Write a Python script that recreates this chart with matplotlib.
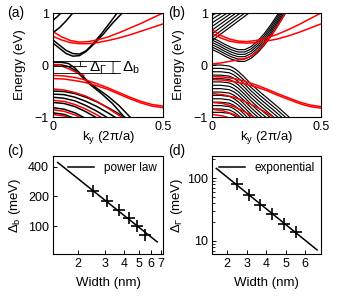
import numpy as np
import matplotlib.pyplot as plt
from matplotlib.ticker import FixedLocator, FixedFormatter, NullFormatter, LogLocator

plt.rcParams['font.family'] = ['Liberation Sans', 'DejaVu Sans']
plt.rcParams['mathtext.fontset'] = 'custom'
plt.rcParams['mathtext.rm'] = 'Liberation Sans'
plt.rcParams['mathtext.it'] = 'Liberation Sans:italic'
plt.rcParams['mathtext.bf'] = 'Liberation Sans:bold'

# ---------------- panel (a) bands: (k, E) ----------------
a_black = [
    ([0, 0.03, 0.06, 0.09, 0.12, 0.15, 0.19, 0.23, 0.27, 0.31, 0.33],
     [0.42, 0.32, 0.22, 0.17, 0.18, 0.26, 0.42, 0.6, 0.8, 0.98, 1.08]),
    ([0, 0.03, 0.06, 0.09, 0.12, 0.15, 0.18, 0.22, 0.26, 0.3],
     [0.48, 0.38, 0.28, 0.22, 0.21, 0.27, 0.4, 0.6, 0.82, 1.05]),
    ([0, 0.03, 0.06, 0.09], [0.62, 0.72, 0.85, 1.0]),
    ([0, 0.02, 0.04], [0.86, 0.93, 1.02]),
    ([0, 0.04, 0.07, 0.1, 0.13, 0.16, 0.2, 0.25, 0.3, 0.35],
     [0.05, 0.05, 0.03, -0.06, -0.19, -0.32, -0.45, -0.6, -0.78, -1.0]),
    ([0, 0.04, 0.07, 0.1, 0.13, 0.17, 0.22, 0.27, 0.32],
     [0.0, 0.0, -0.03, -0.1, -0.22, -0.38, -0.55, -0.74, -0.98]),
    ([0, 0.05, 0.1, 0.15, 0.2, 0.25, 0.3, 0.35],
     [-0.5, -0.51, -0.55, -0.62, -0.71, -0.82, -0.94, -1.06]),
    ([0, 0.05, 0.1, 0.15, 0.2, 0.25, 0.3],
     [-0.56, -0.57, -0.62, -0.7, -0.8, -0.92, -1.05]),
    ([0, 0.05, 0.1, 0.15, 0.2, 0.25],
     [-0.62, -0.64, -0.69, -0.78, -0.89, -1.02]),
    ([0, 0.05, 0.1, 0.15, 0.2], [-0.72, -0.74, -0.8, -0.9, -1.02]),
    ([0, 0.05, 0.1, 0.15], [-0.82, -0.85, -0.92, -1.03]),
    ([0, 0.05, 0.1], [-0.92, -0.95, -1.03]),
]
a_red = [
    ([0, 0.04, 0.08, 0.12, 0.16, 0.2, 0.25, 0.3, 0.35, 0.4, 0.45, 0.5],
     [0.64, 0.54, 0.47, 0.44, 0.45, 0.48, 0.54, 0.62, 0.71, 0.8, 0.9, 1.0]),
    ([0, 0.04, 0.08, 0.12, 0.16, 0.2, 0.25, 0.3, 0.35, 0.4, 0.45, 0.5],
     [0.55, 0.48, 0.43, 0.41, 0.41, 0.43, 0.47, 0.52, 0.58, 0.65, 0.72, 0.79]),
    ([0, 0.02, 0.04, 0.07, 0.1, 0.14], [0.0, 0.0, -0.02, -0.07, -0.13, -0.2]),
    ([0, 0.05, 0.1, 0.15, 0.2, 0.25, 0.3, 0.35, 0.4, 0.45, 0.5],
     [-0.2, -0.21, -0.24, -0.29, -0.36, -0.44, -0.53, -0.62, -0.7, -0.76, -0.79]),
    ([0, 0.05, 0.1, 0.15, 0.2, 0.25, 0.3, 0.35, 0.4, 0.45, 0.5],
     [-0.26, -0.27, -0.3, -0.34, -0.4, -0.47, -0.56, -0.65, -0.73, -0.79, -0.82]),
    ([0, 0.05, 0.1, 0.15, 0.2, 0.25, 0.3, 0.33],
     [-0.46, -0.48, -0.53, -0.6, -0.7, -0.83, -0.97, -1.05]),
    ([0, 0.05, 0.1, 0.15, 0.2, 0.25], [-0.68, -0.7, -0.76, -0.85, -0.96, -1.08]),
    ([0, 0.05, 0.1, 0.15], [-0.86, -0.89, -0.96, -1.06]),
    ([0, 0.05, 0.1], [-0.95, -0.98, -1.05]),
]

# gap markers in (a)
gap_top = 0.07
gap_gamma_low = -0.01
gap_b_low = -0.145

# ---------------- panel (b) bands ----------------
# top-left stack: straight from left edge (E_left) up to top edge (k_top)
b_stack_E_left = [0.95, 0.88, 0.81, 0.74, 0.67, 0.6, 0.53, 0.47]
b_stack_k_top = [0.02, 0.045, 0.07, 0.09, 0.11, 0.13, 0.15, 0.17]
# conduction bundle: one shape, stacked by offsets
b_cond_k = [0, 0.03, 0.06, 0.09, 0.12, 0.15, 0.18, 0.21, 0.24, 0.27, 0.3, 0.33, 0.35]
b_cond_E = [0.3, 0.24, 0.17, 0.11, 0.07, 0.07, 0.13, 0.24, 0.38, 0.55, 0.74, 0.95, 1.1]
b_cond_offsets = [0, 0.045, 0.09, 0.135, 0.18, 0.225]
# valence bundle
b_val_k = [0, 0.04, 0.08, 0.1, 0.12, 0.15, 0.18, 0.22, 0.26, 0.3, 0.34, 0.38]
b_val_E = [0.0, 0.0, -0.02, -0.06, -0.12, -0.24, -0.37, -0.52, -0.66, -0.8, -0.95, -1.1]
b_val_offsets = [0, 0.065, 0.13, 0.195, 0.26, 0.325, 0.39, 0.455, 0.52,
                 0.585, 0.65, 0.715, 0.78, 0.845, 0.91]
b_red = [
    ([0, 0.04, 0.08, 0.12, 0.16, 0.2, 0.25, 0.3, 0.35, 0.4, 0.45, 0.5],
     [0.68, 0.57, 0.5, 0.46, 0.45, 0.47, 0.52, 0.59, 0.68, 0.78, 0.89, 1.0]),
    ([0, 0.04, 0.08, 0.12, 0.16, 0.2, 0.25, 0.3, 0.35, 0.4, 0.45, 0.5],
     [0.6, 0.52, 0.46, 0.43, 0.42, 0.43, 0.46, 0.5, 0.56, 0.63, 0.71, 0.79]),
    ([0, 0.04, 0.08, 0.11, 0.14, 0.17, 0.2, 0.23, 0.26, 0.29, 0.32, 0.34],
     [0.02, 0.04, 0.07, 0.09, 0.11, 0.15, 0.23, 0.35, 0.5, 0.68, 0.88, 1.02]),
    ([0, 0.05, 0.1, 0.15, 0.2, 0.25, 0.3, 0.35, 0.4, 0.45, 0.5],
     [-0.22, -0.23, -0.26, -0.31, -0.38, -0.46, -0.55, -0.63, -0.71, -0.77, -0.8]),
    ([0, 0.05, 0.1, 0.15, 0.2, 0.25, 0.3, 0.35, 0.4, 0.45, 0.5],
     [-0.28, -0.29, -0.32, -0.36, -0.42, -0.49, -0.58, -0.66, -0.74, -0.8, -0.83]),
    ([0, 0.05, 0.1, 0.15, 0.2, 0.25, 0.3],
     [-0.55, -0.57, -0.62, -0.7, -0.8, -0.92, -1.05]),
    ([0, 0.05, 0.1, 0.15, 0.2], [-0.72, -0.74, -0.8, -0.9, -1.02]),
    ([0, 0.05, 0.1, 0.15], [-0.85, -0.88, -0.95, -1.05]),
    ([0, 0.05, 0.1], [-0.95, -0.98, -1.05]),
]

# ---------------- panels (c), (d) ----------------
width = [2.5, 3.1, 3.7, 4.3, 4.9, 5.5]
delta_b = [225, 178, 145, 120, 100, 82]
delta_gamma = [80, 54, 38, 27, 19, 13.8]
power_fit_x = [1.47, 6.6]
power_fit_y = [443, 69]
exp_fit_x = [1.45, 6.6]
exp_fit_y = [144, 7.2]

LW = 1.1
LW_B = 0.85
fig = plt.figure(figsize=(3.38, 3.0), dpi=100)
W, H = 338.0, 300.0


def rect(x0, x1, y0, y1):
    return [x0 / W, 1 - y1 / H, (x1 - x0) / W, (y1 - y0) / H]


def style(ax):
    ax.tick_params(direction='in', length=3, width=0.7, labelsize=9, pad=3)
    ax.tick_params(which='minor', direction='in', length=1.8, width=0.6)
    for s in ax.spines.values():
        s.set_linewidth(0.8)


ax_a = fig.add_axes(rect(53, 163, 13, 117))
ax_b = fig.add_axes(rect(212, 321, 13, 117))
ax_c = fig.add_axes(rect(53, 163, 156, 254))
ax_d = fig.add_axes(rect(212, 321, 156, 254))

for k, e in a_black:
    ax_a.plot(k, e, color='black', lw=LW)
for k, e in a_red:
    ax_a.plot(k, e, color='red', lw=LW)

# gap markers
ax_a.plot([0, 0.305], [gap_top, gap_top], color='black', lw=0.6)
ax_a.plot([0, 0.15], [gap_gamma_low, gap_gamma_low], color='black', lw=0.6)
ax_a.plot([0, 0.305], [gap_b_low, gap_b_low], color='black', lw=0.6)
for kx, lo in [(0.125, gap_gamma_low), (0.273, gap_b_low)]:
    ax_a.annotate('', xy=(kx, lo), xytext=(kx, gap_top),
                  arrowprops=dict(arrowstyle='|-|,widthA=0.12,widthB=0.12',
                                  lw=0.6, shrinkA=0, shrinkB=0))
ax_a.text(0.165, -0.06, r'$\Delta_\Gamma$', fontsize=11, va='center', ha='left')
ax_a.text(0.315, -0.06, r'$\Delta_\mathrm{b}$', fontsize=11, va='center', ha='left')

for el, kt in zip(b_stack_E_left, b_stack_k_top):
    ax_b.plot([0, kt], [el, 1.0], color='black', lw=LW_B)
for off in b_cond_offsets:
    ax_b.plot(b_cond_k, np.array(b_cond_E) + off, color='black', lw=LW_B)
for off in b_val_offsets:
    ax_b.plot(b_val_k, np.array(b_val_E) - off, color='black', lw=LW_B)
for k, e in b_red:
    ax_b.plot(k, e, color='red', lw=LW)

for ax in (ax_a, ax_b):
    ax.set_xlim(0, 0.5)
    ax.set_ylim(-1, 1)
    ax.set_xticks([0, 0.5])
    ax.set_xticklabels(['0', '0.5'])
    ax.set_yticks([-1, 0, 1])
    ax.set_yticklabels(['\u22121', '0', '1'])
    style(ax)
    ax.set_xlabel(r'k$_\mathrm{y}$ (2π/a)', fontsize=9.5)
    ax.set_ylabel('Energy (eV)', fontsize=9.5)
    ax.xaxis.set_label_coords(0.5, -0.12)
ax_a.yaxis.set_label_coords(-0.245, 0.5)
ax_b.yaxis.set_label_coords(-0.25, 0.5)

# (c) power law, log-log
ax_c.plot(power_fit_x, power_fit_y, color='black', lw=1.1, label='power law')
ax_c.plot(width, delta_b, '+', color='black', ms=8, mew=1.2)
ax_c.set_xscale('log')
ax_c.set_yscale('log')
ax_c.set_xlim(1.37, 7.2)
ax_c.set_ylim(52, 515)
ax_c.xaxis.set_major_locator(FixedLocator([2, 3, 4, 5, 6, 7]))
ax_c.xaxis.set_major_formatter(FixedFormatter(['2', '3', '4', '5', '6', '7']))
ax_c.xaxis.set_minor_locator(FixedLocator([]))
ax_c.yaxis.set_major_locator(FixedLocator([100, 200, 400]))
ax_c.yaxis.set_major_formatter(FixedFormatter(['100', '200', '400']))
ax_c.yaxis.set_minor_locator(FixedLocator([]))
ax_c.set_ylabel(r'$\Delta_\mathrm{b}$ (meV)', fontsize=9.5)
ax_c.yaxis.set_label_coords(-0.27, 0.5)

# (d) exponential, semilog
ax_d.plot(exp_fit_x, exp_fit_y, color='black', lw=1.1, label='exponential')
ax_d.plot(width, delta_gamma, '+', color='black', ms=8, mew=1.2)
ax_d.set_yscale('log')
ax_d.set_xlim(1.23, 6.8)
ax_d.set_ylim(6.2, 227)
ax_d.set_xticks([2, 3, 4, 5, 6])
ax_d.yaxis.set_major_locator(FixedLocator([10, 100]))
ax_d.yaxis.set_major_formatter(FixedFormatter(['10', '100']))
ax_d.yaxis.set_minor_locator(LogLocator(base=10, subs=np.arange(2, 10)))
ax_d.yaxis.set_minor_formatter(NullFormatter())
ax_d.set_ylabel(r'$\Delta_\Gamma$ (meV)', fontsize=9.5)
ax_d.yaxis.set_label_coords(-0.25, 0.5)

for ax in (ax_c, ax_d):
    style(ax)
    ax.set_xlabel('Width (nm)', fontsize=9.5)
    ax.xaxis.set_label_coords(0.5, -0.23)
    ax.legend(loc='upper right', frameon=False, fontsize=8.5, handlelength=2.2,
              handletextpad=0.8, borderaxespad=0.15)

fig.text(7 / W, 1 - 13 / H, '(a)', fontsize=10, va='center')
fig.text(168 / W, 1 - 13 / H, '(b)', fontsize=10, va='center')
fig.text(7 / W, 1 - 151 / H, '(c)', fontsize=10, va='center')
fig.text(168 / W, 1 - 151 / H, '(d)', fontsize=10, va='center')

fig.savefig('out.png', dpi=100)
